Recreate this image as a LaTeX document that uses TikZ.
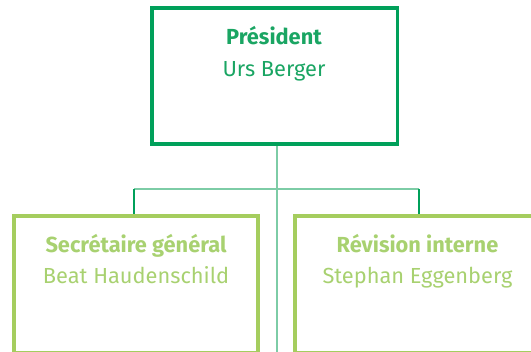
\documentclass[tikz,border=0pt]{standalone}
\usepackage{fontspec}
\setmainfont{Fira Sans}
\definecolor{presgreen}{HTML}{00A05A}
\definecolor{prestext}{HTML}{1AA563}
\definecolor{boxgreen}{HTML}{A5CD5E}
\definecolor{boxtext}{HTML}{A8D170}
\definecolor{linkteal}{HTML}{7DCCA6}
\tikzset{
  presbox/.style={draw=presgreen, line width=3.5pt, inner sep=0pt, minimum width=245.5pt, minimum height=136pt},
  subbox/.style={draw=boxgreen, line width=4pt, inner sep=0pt, minimum width=244pt, minimum height=137pt},
  titletext/.style={anchor=base, inner sep=0pt, font=\fontsize{21.8}{26}\selectfont\bfseries},
  nametext/.style={anchor=base, inner sep=0pt, font=\fontsize{21.8}{26}\selectfont},
  trunk/.style={draw=linkteal, line width=2pt},
  branch/.style={draw=linkteal, line width=1.5pt},
  drop/.style={draw=presgreen, line width=1.3pt}
}
\begin{document}
\begin{tikzpicture}[x=1pt,y=-1pt]
\useasboundingbox (0,0) rectangle (531,352);
\clip (0,0) rectangle (531,352);
% connectors first
\coordinate (bottom) at (277,353);
\coordinate (hl) at (134,189);
\coordinate (hr) at (419,189);
\coordinate (tr) at (277,145);
\draw[trunk] (tr) -- (bottom);
\draw[branch] (hl) -- (hr);
% boxes
\node[presbox] (pres) at (274.5,75.8) {};
\node[subbox] (sec) at (136,284.5) {};
\node[subbox] (rev) at (417,284.5) {};
\draw[drop] (hl) -- (hl |- sec.north);
\draw[drop] (hr) -- (hr |- rev.north);
% texts
\node[titletext, text=prestext] (t1) at (274,45) {Président};
\node[nametext, text=prestext] (n1) at (274,77) {Urs Berger};
\node[titletext, text=boxtext] (t2) at (136,253) {Secrétaire général};
\node[nametext, text=boxtext] (n2) at (136,284) {Beat Haudenschild};
\node[titletext, text=boxtext] (t3) at (417.5,253) {Révision interne};
\node[nametext, text=boxtext] (n3) at (417.5,284) {Stephan Eggenberg};
\end{tikzpicture}
\end{document}
